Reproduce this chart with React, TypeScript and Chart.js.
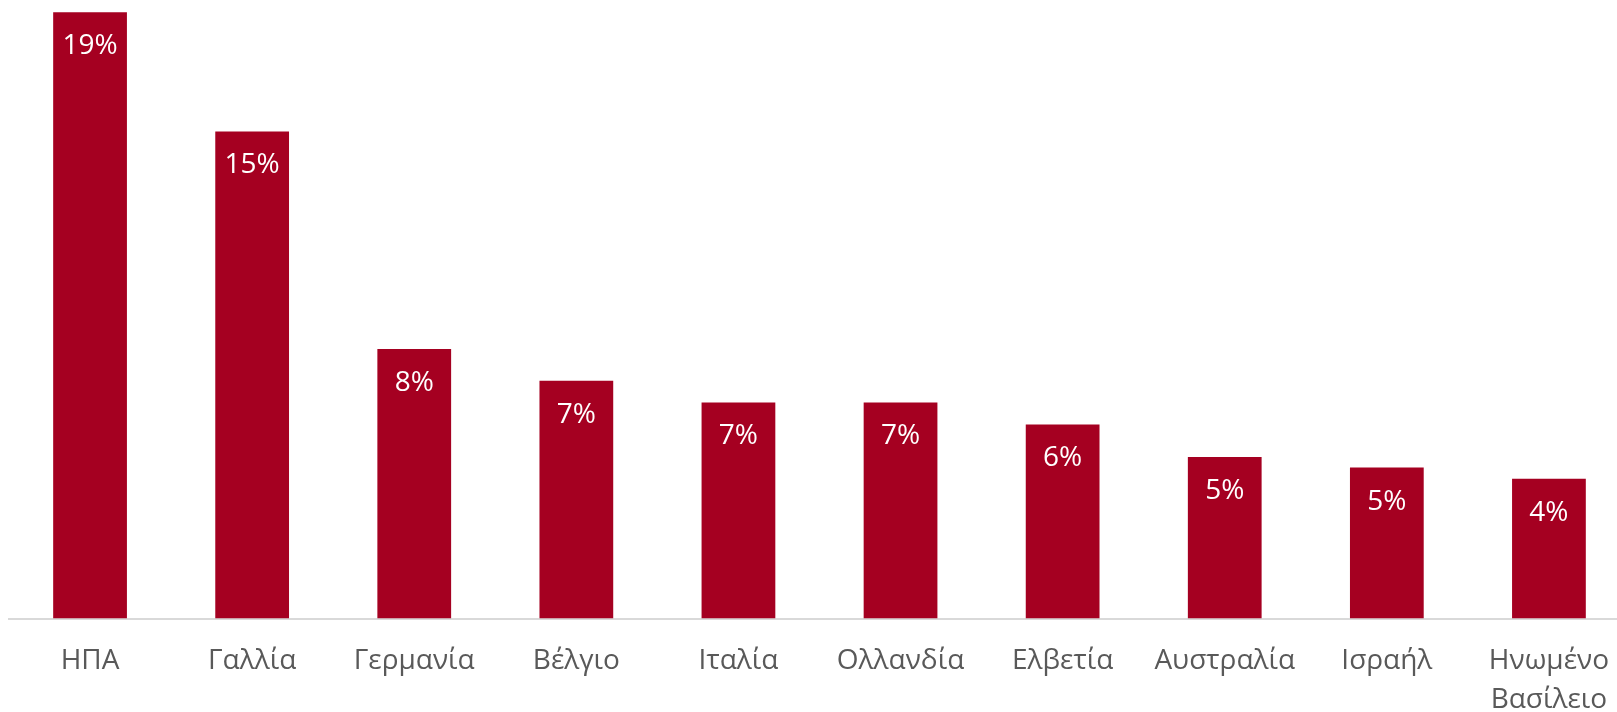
import React, { useEffect, useRef } from "react";
import { Chart, registerables } from "chart.js";

Chart.register(...registerables);

const categories: (string | string[])[] = [
  "ΗΠΑ",
  "Γαλλία",
  "Γερμανία",
  "Βέλγιο",
  "Ιταλία",
  "Ολλανδία",
  "Ελβετία",
  "Αυστραλία",
  "Ισραήλ",
  ["Ηνωμένο", "Βασίλειο"],
];

const shares = [19.0, 15.26, 8.45, 7.45, 6.77, 6.77, 6.08, 5.06, 4.73, 4.38];

const shareLabels = ["19%", "15%", "8%", "7%", "7%", "7%", "6%", "5%", "5%", "4%"];

const FONT = "'Open Sans', 'DejaVu Sans', sans-serif";

const barLabelPlugin = {
  id: "barLabels",
  afterDatasetsDraw(chart: any) {
    const ctx = chart.ctx;
    const meta = chart.getDatasetMeta(0);
    ctx.save();
    ctx.fillStyle = "#ffffff";
    ctx.font = `28px ${FONT}`;
    ctx.textAlign = "center";
    ctx.textBaseline = "middle";
    meta.data.forEach((el: any, i: number) => {
      ctx.fillText(shareLabels[i], el.x, el.y + 34);
    });
    ctx.restore();
  },
};

export default function App() {
  const ref = useRef<HTMLCanvasElement | null>(null);

  useEffect(() => {
    if (!ref.current) return;
    const chart = new Chart(ref.current, {
      type: "bar",
      data: {
        labels: categories,
        datasets: [
          {
            data: shares,
            backgroundColor: "#a50021",
            borderWidth: 0,
            categoryPercentage: 1,
            barPercentage: 0.455,
          },
        ],
      },
      options: {
        responsive: false,
        animation: false,
        layout: { padding: { left: 9, right: 0, top: 0, bottom: 0 } },
        plugins: {
          legend: { display: false },
          tooltip: { enabled: false },
        },
        scales: {
          y: {
            display: false,
            min: 0,
            max: 19.38,
          },
          x: {
            grid: { display: false, drawTicks: false },
            border: { display: true, color: "#d9d9d9", width: 2 },
            ticks: {
              color: "#595959",
              font: { family: FONT, size: 28, lineHeight: 1.4 },
              padding: 23,
              maxRotation: 0,
              autoSkip: false,
            },
          },
        },
      },
      plugins: [barLabelPlugin],
    });
    return () => chart.destroy();
  }, []);

  return (
    <div
      style={{
        position: "fixed",
        left: 0,
        top: 0,
        width: 1617,
        height: 712,
        overflow: "hidden",
        background: "#ffffff",
      }}
    >
      <canvas ref={ref} width={1632} height={743} style={{ display: "block" }} />
    </div>
  );
}
